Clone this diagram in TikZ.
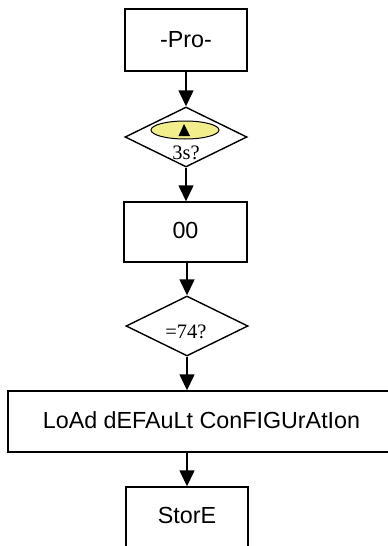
\documentclass[tikz,border=0pt]{standalone}
\usepackage{fontspec}
\setmainfont{Liberation Sans}
\newfontfamily\serifface{Liberation Serif}
\usetikzlibrary{shapes.geometric,arrows.meta}
\definecolor{elyellow}{RGB}{242,238,140}
\begin{document}
\begin{tikzpicture}[x=1pt,y=-1pt,
  line width=1.4pt,
  box/.style={draw,rectangle,inner sep=0pt,font=\fontsize{23.3}{25}\selectfont},
  decision/.style={draw,diamond,aspect=2,inner sep=0pt,minimum width=122pt,minimum height=60pt},
  lbl/.style={inner sep=0pt,font=\serifface\fontsize{20.5}{22}\selectfont},
  flow/.style={-{Triangle[width=15pt,length=16pt]}}]
\useasboundingbox (0,0) rectangle (388,546);
\clip (0,0) rectangle (388,546);
\node[box,minimum width=122pt,minimum height=62pt] (pro) at (186,40) {\raisebox{2pt}{-Pro-}};
\node[decision] (d1) at (186,137) {};
\node[draw,ellipse,fill=elyellow,line width=1pt,minimum width=68pt,minimum height=18pt,inner sep=0pt] (el) at (185,130) {};
\fill (184,124) -- (190,136) -- (178.5,136) -- cycle;
\node[lbl] (t1) at (186,153) {3s?};
\node[box,minimum width=123pt,minimum height=60pt] (zero) at (185.5,232) {\raisebox{3pt}{00}};
\node[decision] (d2) at (187,326) {};
\node[lbl] (t2) at (186,332) {=74?};
\node[box,minimum width=387pt,minimum height=61pt] (load) at (201.5,421.5) {\raisebox{2pt}{LoAd dEFAuLt ConFIGUrAtIon}};
\node[box,minimum width=122pt,minimum height=60pt] (store) at (187,517) {\raisebox{4pt}{StorE}};
\draw[flow] (pro.south) -- (d1.north);
\draw[flow] (d1.south) -- (zero.north -| d1.south);
\draw[flow] (zero.south -| d2.north) -- (d2.north);
\draw[flow] (d2.south) -- (d2.south |- load.north);
\draw[flow] (store.north |- load.south) -- (store.north);
\end{tikzpicture}
\end{document}
